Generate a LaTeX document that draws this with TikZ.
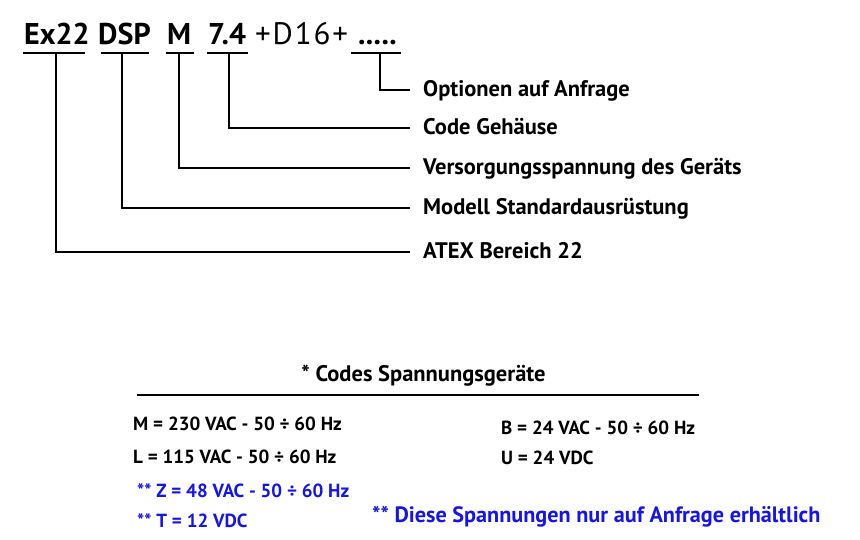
\documentclass[tikz,border=0pt]{standalone}
\usepackage{fontspec}
\setmainfont{PT Sans}
\definecolor{reqblue}{RGB}{20,20,235}
\tikzset{
  x=1pt, y=-1pt,
  conn/.style={line width=2.2pt, line cap=rect},
  codepart/.style={anchor=base west, inner sep=0pt, font=\fontsize{30}{30}\selectfont\bfseries},
  codeplain/.style={anchor=base west, inner sep=0pt, font=\fontsize{31}{31}\selectfont\addfontfeature{LetterSpace=6}},
  lbl/.style={anchor=west, inner xsep=13pt, inner ysep=0pt, text height=14pt, text depth=0pt,
              font=\fontsize{22.5}{22.5}\selectfont\bfseries},
  row/.style={anchor=base west, inner sep=0pt, font=\fontsize{19}{19}\selectfont\bfseries},
  bluerow/.style={row, text=reqblue},
}
\begin{document}
\begin{tikzpicture}
\useasboundingbox (0,0) rectangle (860,540);
% code parts
\node[codepart] (ex)  at (24,45)  {Ex22};
\node[codepart] (dsp) at (98,45)  {DSP};
\node[codepart] (m)   at (167,45) {M};
\node[codepart] (cg)  at (208,45) {7.4};
\node[codeplain] (d16) at (255,45) {+D16+};
\node[codepart] (opt) at (358,45) {.....};
% underline points
\coordinate (u1) at (56,53);
\coordinate (u2) at (122,53);
\coordinate (u3) at (179,53);
\coordinate (u4) at (229,53);
\coordinate (u5) at (380,53);
\draw[conn] (24,53) -- (84,53);
\draw[conn] (102,53) -- (148,53);
\draw[conn] (167,53) -- (193,53);
\draw[conn] (208,53) -- (247,53);
\draw[conn] (352,53) -- (400,53);
% labels
\node[lbl] (l5) at (410,90)  {Optionen auf Anfrage};
\node[lbl] (l4) at (410,128) {Code Gehäuse};
\node[lbl] (l3) at (410,168) {Versorgungsspannung des Geräts};
\node[lbl] (l2) at (410,208) {Modell Standardausrüstung};
\node[lbl] (l1) at (410,252) {ATEX Bereich 22};
% connectors
\draw[conn, line cap=butt] (u5) |- (l5.west);
\draw[conn, line cap=butt] (u4) |- (l4.west);
\draw[conn, line cap=butt] (u3) |- (l3.west);
\draw[conn, line cap=butt] (u2) |- (l2.west);
\draw[conn, line cap=butt] (u1) |- (l1.west);
% voltage codes
\node[anchor=base, inner sep=0pt, font=\fontsize{22.5}{22.5}\selectfont\bfseries] (title) at (423.5,381) {* Codes Spannungsgeräte};
\coordinate (rl) at (137,395);
\coordinate (rr) at (699,395);
\draw[line width=2.2pt] (rl) -- (rr);
\node[row] (rm) at (133,430) {M = 230 VAC - 50 ÷ 60 Hz};
\node[row] (rlr) at (133,463) {L = 115 VAC - 50 ÷ 60 Hz};
\node[row] (rb) at (501,434) {B = 24 VAC - 50 ÷ 60 Hz};
\node[row] (ru) at (501,464) {U = 24 VDC};
\node[bluerow] (rz) at (137,497) {** Z = 48 VAC - 50 ÷ 60 Hz};
\node[bluerow] (rt) at (137,527) {** T = 12 VDC};
\node[bluerow, font=\fontsize{22.2}{22.2}\selectfont\bfseries] (note) at (372,522) {** Diese Spannungen nur auf Anfrage erhältlich};
\end{tikzpicture}
\end{document}
